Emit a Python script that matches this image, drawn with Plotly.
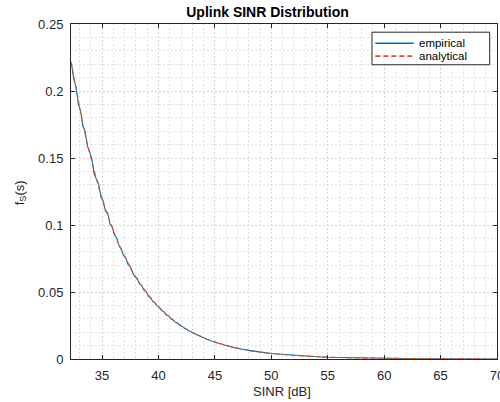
import plotly.graph_objects as go

# Empirical SINR histogram (pdf estimate), bin centres in dB
emp_x = [32.3, 32.5, 32.7, 32.9, 33.1, 33.3, 33.5, 33.7, 33.9, 34.1,
         34.3, 34.5, 34.7, 34.9, 35.1, 35.3, 35.5, 35.7, 35.9, 36.1,
         36.3, 36.5, 36.7, 36.9, 37.1, 37.3, 37.5, 37.7, 37.9, 38.1,
         38.3, 38.5, 38.7, 38.9, 39.1, 39.3, 39.5, 39.7, 39.9, 40.1,
         40.3, 40.5, 40.7, 40.9, 41.1, 41.3, 41.5, 41.7, 41.9, 42.1,
         42.3, 42.5, 42.7, 42.9, 43.1, 43.3, 43.5, 43.7, 43.9, 44.1,
         44.3, 44.5, 44.7, 44.9, 45.1, 45.3, 45.5, 45.7, 45.9, 46.1,
         46.3, 46.5, 46.7, 46.9, 47.1, 47.3, 47.5, 47.7, 47.9, 48.1,
         48.3, 48.5, 48.7, 48.9, 49.1, 49.3, 49.5, 49.7, 49.9,
         50.5, 51.0, 51.5, 52.0, 52.5, 53.0, 53.5, 54.0, 54.5, 55.0,
         55.5, 56.0, 56.5, 57.0, 57.5, 58.0, 58.5, 59.0, 59.5, 60.0,
         61.0, 62.0, 63.0, 64.0, 65.0, 66.0, 67.0, 68.0, 69.0, 70.0]
emp_pdf = [0.2200, 0.2085, 0.2030, 0.1900, 0.1850, 0.1738, 0.1700, 0.1590, 0.1548, 0.1490,
           0.1380, 0.1345, 0.1305, 0.1210, 0.1180, 0.1105, 0.1090, 0.1010, 0.0985, 0.0925,
           0.0905, 0.0848, 0.0822, 0.0772, 0.0755, 0.0705, 0.0690, 0.0648, 0.0615, 0.0604,
           0.0562, 0.0551, 0.0515, 0.0505, 0.0470, 0.0460, 0.0428, 0.0419, 0.0394, 0.0385,
           0.0360, 0.0352, 0.0328, 0.0323, 0.0300, 0.0293, 0.0274, 0.0268, 0.0250, 0.0245,
           0.0229, 0.0224, 0.0209, 0.0204, 0.0191, 0.0187, 0.0175, 0.0171, 0.0160, 0.0157,
           0.0146, 0.0143, 0.0133, 0.0131, 0.0122, 0.0120, 0.0112, 0.0110, 0.0102, 0.0100,
           0.0093, 0.0092, 0.0085, 0.0083, 0.0078, 0.0076, 0.0071, 0.0070, 0.0065, 0.0064,
           0.0059, 0.0059, 0.0054, 0.0053, 0.0051, 0.0047, 0.0046, 0.0044, 0.0041,
           0.0037, 0.0033, 0.0030, 0.0026, 0.0024, 0.0021, 0.0019, 0.0017, 0.0015, 0.0013,
           0.0012, 0.0011, 0.0010, 0.0009, 0.0008, 0.0007, 0.0006, 0.0006, 0.0005, 0.0004,
           0.0004, 0.0003, 0.0002, 0.0002, 0.0001, 0.0001, 0.0001, 0.0001, 0.0000, 0.0000]

# Analytical pdf of the uplink SINR
ana_x = [32.25, 32.75, 33.25, 33.75, 34.25, 34.75, 35.25, 35.75, 36.25, 36.75,
         37.25, 37.75, 38.25, 38.75, 39.25, 39.75, 40.25, 40.75, 41.25, 41.75,
         42.25, 42.75, 43.25, 43.75, 44.25, 44.75, 45.25, 45.75, 46.25, 46.75,
         47.25, 47.75, 48.25, 48.75, 49.25, 49.75, 50.75, 51.75, 52.75, 53.75,
         54.75, 55.75, 56.75, 57.75, 58.75, 59.75, 60.75, 61.75, 62.75, 63.75,
         64.75, 65.75, 66.75, 67.75, 68.75, 69.75, 70.0]
ana_pdf = [0.2220, 0.1984, 0.1773, 0.1584, 0.1416, 0.1265, 0.1130, 0.1010, 0.0903, 0.0807,
           0.0721, 0.0644, 0.0575, 0.0514, 0.0460, 0.0411, 0.0367, 0.0328, 0.0293, 0.0262,
           0.0234, 0.0209, 0.0187, 0.0167, 0.0149, 0.0133, 0.0119, 0.0107, 0.0095, 0.0085,
           0.0076, 0.0068, 0.0061, 0.0054, 0.0048, 0.0043, 0.00345, 0.00276, 0.00220, 0.00176,
           0.00140, 0.00112, 0.00089, 0.00071, 0.00057, 0.00046, 0.00036, 0.00029, 0.00023, 0.00019,
           0.00015, 0.00012, 0.00009, 0.00007, 0.00006, 0.00005, 0.00004]

x_ticks = [35, 40, 45, 50, 55, 60, 65, 70]
y_ticks = [0, 0.05, 0.1, 0.15, 0.2, 0.25]
y_tick_text = ["0", "0.05", "0.1", "0.15", "0.2", "0.25"]

series_names = ["empirical", "analytical"]

BLUE = "#0072BD"
ORANGE = "#D95319"
AX = "#262626"
FONT = "Liberation Sans, Arial, Helvetica, sans-serif"
DASH = "5px,3px"

fig = go.Figure()
fig.add_trace(go.Scatter(x=emp_x, y=emp_pdf, mode="lines", name=series_names[0],
                         line=dict(color=BLUE, width=1.1), showlegend=False))
fig.add_trace(go.Scatter(x=ana_x, y=ana_pdf, mode="lines", name=series_names[1],
                         line=dict(color=ORANGE, width=1.1, dash=DASH), showlegend=False))

grid_major = "#d6d6d6"
grid_minor = "#e2e2e2"

common = dict(ticks="inside", ticklen=4, tickcolor=AX, showline=True, linecolor=AX,
              linewidth=1, mirror="ticks", showgrid=True, gridcolor=grid_major,
              griddash="2px,2px", gridwidth=1, zeroline=False,
              tickfont=dict(family=FONT, size=13, color=AX),
              ticklabeloverflow="allow", ticklabelstandoff=4)

fig.update_xaxes(range=[32.25, 70], tickvals=x_ticks, **common,
                 minor=dict(dtick=1, tick0=0, showgrid=True, gridcolor=grid_minor,
                            griddash="2px,2px", gridwidth=1, ticks=""))
fig.update_yaxes(range=[0, 0.25], tickvals=y_ticks, ticktext=y_tick_text, **common,
                 minor=dict(dtick=0.01, tick0=0, showgrid=True, gridcolor=grid_minor,
                            griddash="2px,2px", gridwidth=1, ticks=""))

# Boxed legend in the top-right corner of the axes (paper coordinates)
PL, PR, PT, PB = 71.0, 496.6, 23.5, 358.8
def px(xp):
    return (xp - PL) / (PR - PL)
def py(yp):
    return (PB - yp) / (PB - PT)

legend_rows = [(42.7, BLUE, "solid"), (55.7, ORANGE, DASH)]
shapes = [dict(type="rect", xref="paper", yref="paper",
               x0=px(371.7), x1=px(489.3), y0=py(64.3), y1=py(31.7),
               line=dict(color=AX, width=1), fillcolor="white", layer="above")]
annotations = []
for (row_y, colour, dash), label in zip(legend_rows, series_names):
    shapes.append(dict(type="line", xref="paper", yref="paper",
                       x0=px(375), x1=px(413.5), y0=py(row_y), y1=py(row_y),
                       line=dict(color=colour, width=1.6, dash=dash), layer="above"))
    annotations.append(dict(text=label, x=px(416.5), y=py(row_y), xref="paper", yref="paper",
                            showarrow=False, xanchor="left", yanchor="middle",
                            font=dict(family=FONT, size=11.5, color="black")))

annotations += [
    dict(text="SINR [dB]", x=px(282), y=py(391.5), xref="paper", yref="paper",
         showarrow=False, xanchor="center", yanchor="middle",
         font=dict(family=FONT, size=13, color=AX)),
    dict(text="f<sub>S</sub>(s)", x=px(20), y=py(192), xref="paper", yref="paper",
         showarrow=False, textangle=-90, xanchor="center", yanchor="middle",
         font=dict(family=FONT, size=13, color=AX)),
]

fig.update_layout(
    width=500, height=402,
    margin=dict(l=PL, r=500 - PR, t=PT, b=402 - PB, autoexpand=False),
    paper_bgcolor="white", plot_bgcolor="white",
    font=dict(family=FONT, color=AX),
    title=dict(text="<b>Uplink SINR Distribution</b>", x=0.535, xanchor="center",
               y=1 - 12 / 402, yanchor="middle", font=dict(family=FONT, size=14, color="black")),
    showlegend=False,
    shapes=shapes,
    annotations=annotations,
)

fig.write_html("out.html")
